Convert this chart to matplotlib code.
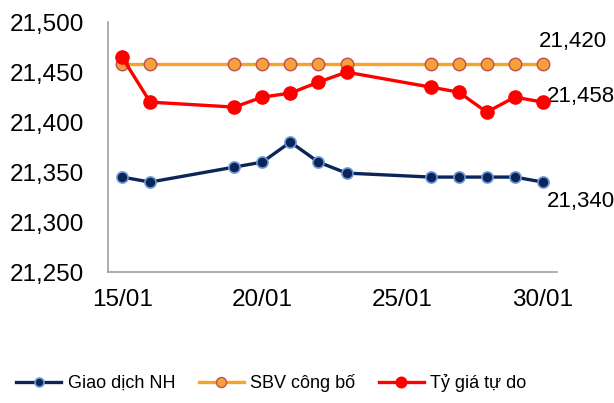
import matplotlib.pyplot as plt
from matplotlib.ticker import FuncFormatter

plt.rcParams['font.family'] = ['Liberation Sans', 'DejaVu Sans']

days = [15, 16, 19, 20, 21, 22, 23, 26, 27, 28, 29, 30]
giao_dich_nh = [21345, 21340, 21355, 21360, 21380, 21360, 21349, 21345, 21345, 21345, 21345, 21340]
sbv_cong_bo = [21458] * 12
ty_gia_tu_do = [21465, 21420, 21415, 21425, 21429, 21440, 21450, 21435, 21430, 21410, 21425, 21420]
x_ticks = [15, 20, 25, 30]
x_labels = ['15/01', '20/01', '25/01', '30/01']
end_labels = ['21,340', '21,420', '21,458']

fig = plt.figure(figsize=(6.14, 4.03), dpi=100)
ax = fig.add_axes([0.176, 0.325, 0.731, 0.62])

ax.plot(days, giao_dich_nh, color='#0b2559', lw=2.4, marker='o', ms=8,
        mfc='#0b2559', mec='#6a9ad6', mew=1.2, label='Giao dịch NH', zorder=3)
ax.plot(days, sbv_cong_bo, color='#f7a325', lw=2.4, marker='o', ms=9,
        mfc='#f5a03a', mec='#c0504d', mew=1.0, label='SBV công bố', zorder=2)
ax.plot(days, ty_gia_tu_do, color='#ff0000', lw=2.4, marker='o', ms=9.5,
        mfc='#ff0000', mec='#ff0000', label='Tỷ giá tự do', zorder=4)

ax.annotate(end_labels[0], (days[-1], giao_dich_nh[-1]), xytext=(3, -14),
            textcoords='offset points', fontsize=16, ha='left', va='center')
ax.annotate(end_labels[1], (days[-1], sbv_cong_bo[-1]), xytext=(-3, 16),
            textcoords='offset points', fontsize=16, ha='left', va='center')
ax.annotate(end_labels[2], (days[-1], ty_gia_tu_do[-1]), xytext=(3, 4),
            textcoords='offset points', fontsize=16, ha='left', va='center')

ax.set_xlim(14.5, 30.5)
ax.set_ylim(21250, 21500)
ax.set_yticks(range(21250, 21501, 50))
ax.yaxis.set_major_formatter(FuncFormatter(lambda v, p: f'{int(v):,}'))
ax.set_xticks(x_ticks)
ax.set_xticklabels(x_labels)
ax.tick_params(axis='both', length=0, labelsize=17.5)
ax.tick_params(axis='y', pad=17)
ax.tick_params(axis='x', pad=12)

for s in ['top', 'right']:
    ax.spines[s].set_visible(False)
for s in ['left', 'bottom']:
    ax.spines[s].set_color('#a0a0a0')
    ax.spines[s].set_linewidth(1.2)

fig.legend(loc='center left', bbox_to_anchor=(0.0, 0.05), ncol=3, frameon=False,
           fontsize=13, handlelength=2.5, columnspacing=1.3, handletextpad=0.35,
           markerscale=0.8)

fig.savefig('out.png', dpi=100)
